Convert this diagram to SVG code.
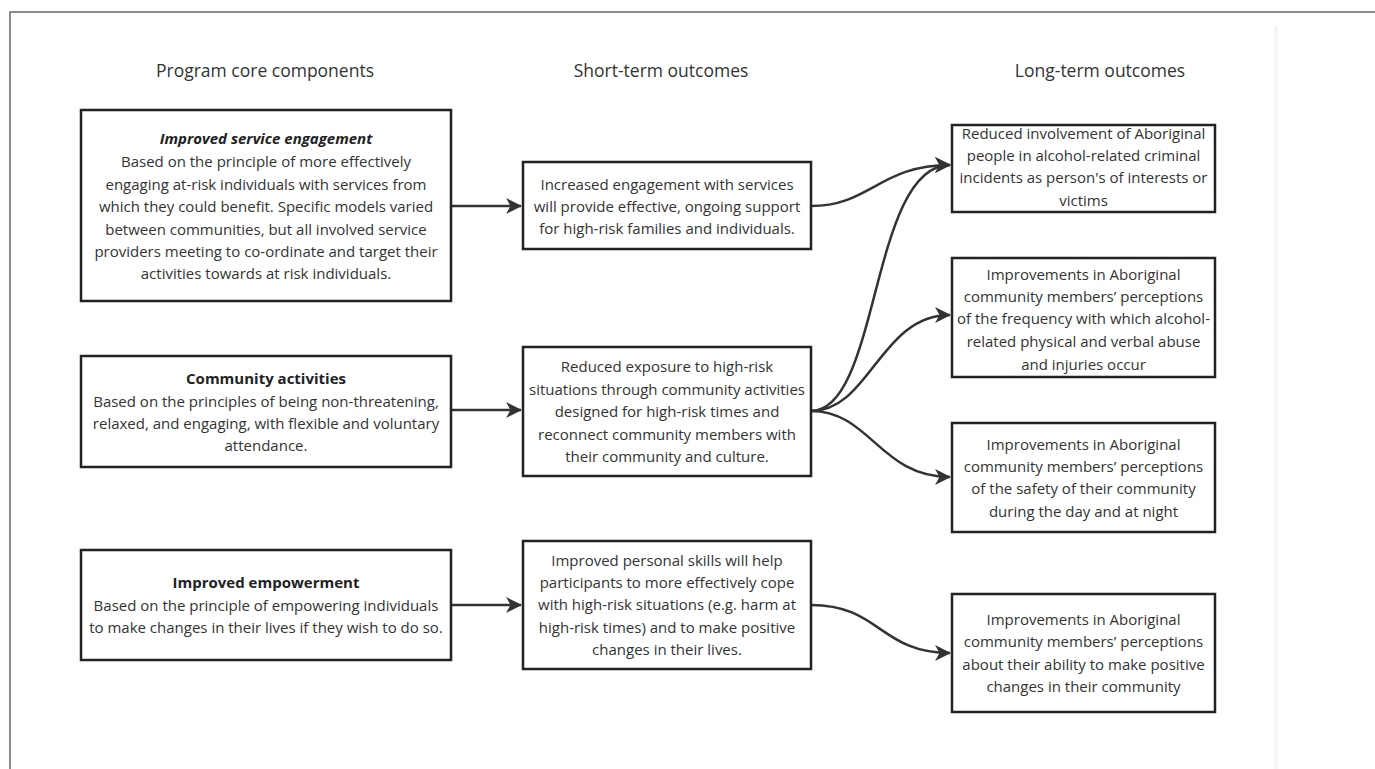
<svg xmlns="http://www.w3.org/2000/svg" width="1375" height="769" viewBox="0 0 1375 769">
<defs>
<style>
text{font-family:"Open Sans","Noto Sans","Liberation Sans",sans-serif;fill:#333;text-anchor:middle}
.h{font-size:17.5px}
.t{font-size:15px}
.b{font-weight:bold;fill:#222}
.bi{font-weight:bold;font-style:italic;fill:#222}
.box{fill:#fff;stroke:#222;stroke-width:2.5}
.c{fill:none;stroke:#333;stroke-width:2.5}
</style>
<marker id="ah" markerUnits="userSpaceOnUse" markerWidth="17" markerHeight="16" refX="15" refY="8" orient="auto" viewBox="0 0 17 16">
<path d="M0,0 L16,8 L0,16 L4.5,8 z" fill="#333"/>
</marker>
</defs>
<rect width="1375" height="769" fill="#fff"/>
<path d="M10,769 V12 H1375" fill="none" stroke="#666" stroke-width="1.5"/>
<line x1="1276" y1="26" x2="1276" y2="769" stroke="#f3f3f3" stroke-width="3"/>

<g id="headers">
<text class="h" x="265" y="77">Program core components</text>
<text class="h" x="661" y="77">Short-term outcomes</text>
<text class="h" x="1100" y="77">Long-term outcomes</text>
</g>

<g id="connectors">
<path class="c" d="M451,206 H521" marker-end="url(#ah)"/>
<path class="c" d="M451,410 H521" marker-end="url(#ah)"/>
<path class="c" d="M451,605 H521" marker-end="url(#ah)"/>
<path class="c" d="M811,206 C870,206 880,165 950,165" marker-end="url(#ah)"/>
<path class="c" d="M811,411 C880,411 870,165 950,165" marker-end="url(#ah)"/>
<path class="c" d="M811,411 C870,411 880,315 950,315" marker-end="url(#ah)"/>
<path class="c" d="M811,411 C870,411 880,477 950,477" marker-end="url(#ah)"/>
<path class="c" d="M811,605 C880,605 880,653 950,653" marker-end="url(#ah)"/>
</g>

<g id="core-service">
<rect class="box" x="81" y="110" width="370" height="191"/>
<text class="t bi" x="266" y="144">Improved service engagement</text>
<text class="t" x="266" y="167">Based on the principle of more effectively</text>
<text class="t" x="266" y="190">engaging at-risk individuals with services from</text>
<text class="t" x="266" y="212">which they could benefit. Specific models varied</text>
<text class="t" x="266" y="235">between communities, but all involved service</text>
<text class="t" x="266" y="257">providers meeting to co-ordinate and target their</text>
<text class="t" x="266" y="279">activities towards at risk individuals.</text>
</g>

<g id="core-community">
<rect class="box" x="81" y="356" width="370" height="111"/>
<text class="t b" x="266" y="384">Community activities</text>
<text class="t" x="266" y="407">Based on the principles of being non-threatening,</text>
<text class="t" x="266" y="429">relaxed, and engaging, with flexible and voluntary</text>
<text class="t" x="266" y="451">attendance.</text>
</g>

<g id="core-empowerment">
<rect class="box" x="81" y="550" width="370" height="110"/>
<text class="t b" x="266" y="588">Improved empowerment</text>
<text class="t" x="266" y="611">Based on the principle of empowering individuals</text>
<text class="t" x="266" y="633">to make changes in their lives if they wish to do so.</text>
</g>

<g id="short-engagement">
<rect class="box" x="523" y="162" width="288" height="87"/>
<text class="t" x="667" y="190">Increased engagement with services</text>
<text class="t" x="667" y="212">will provide effective, ongoing support</text>
<text class="t" x="667" y="234">for high-risk families and individuals.</text>
</g>

<g id="short-exposure">
<rect class="box" x="523" y="347" width="288" height="129"/>
<text class="t" x="667" y="372">Reduced exposure to high-risk</text>
<text class="t" x="667" y="395">situations through community activities</text>
<text class="t" x="667" y="417">designed for high-risk times and</text>
<text class="t" x="667" y="440">reconnect community members with</text>
<text class="t" x="667" y="462">their community and culture.</text>
</g>

<g id="short-skills">
<rect class="box" x="523" y="541" width="288" height="128"/>
<text class="t" x="667" y="566">Improved personal skills will help</text>
<text class="t" x="667" y="588">participants to more effectively cope</text>
<text class="t" x="667" y="610">with high-risk situations (e.g. harm at</text>
<text class="t" x="667" y="633">high-risk times) and to make positive</text>
<text class="t" x="667" y="655">changes in their lives.</text>
</g>

<g id="long-involvement">
<rect class="box" x="952" y="125" width="263" height="87"/>
<text class="t" x="1083.5" y="139">Reduced involvement of Aboriginal</text>
<text class="t" x="1083.5" y="161">people in alcohol-related criminal</text>
<text class="t" x="1083.5" y="183">incidents as person's of interests or</text>
<text class="t" x="1083.5" y="206">victims</text>
</g>

<g id="long-frequency">
<rect class="box" x="952" y="258" width="263" height="119"/>
<text class="t" x="1083.5" y="280">Improvements in Aboriginal</text>
<text class="t" x="1083.5" y="302">community members’ perceptions</text>
<text class="t" x="1083.5" y="324">of the frequency with which alcohol-</text>
<text class="t" x="1083.5" y="347">related physical and verbal abuse</text>
<text class="t" x="1083.5" y="370">and injuries occur</text>
</g>

<g id="long-safety">
<rect class="box" x="952" y="423" width="263" height="109"/>
<text class="t" x="1083.5" y="450">Improvements in Aboriginal</text>
<text class="t" x="1083.5" y="472">community members’ perceptions</text>
<text class="t" x="1083.5" y="494">of the safety of their community</text>
<text class="t" x="1083.5" y="517">during the day and at night</text>
</g>

<g id="long-ability">
<rect class="box" x="952" y="594" width="263" height="118"/>
<text class="t" x="1083.5" y="625">Improvements in Aboriginal</text>
<text class="t" x="1083.5" y="647">community members’ perceptions</text>
<text class="t" x="1083.5" y="670">about their ability to make positive</text>
<text class="t" x="1083.5" y="692">changes in their community</text>
</g>
</svg>
